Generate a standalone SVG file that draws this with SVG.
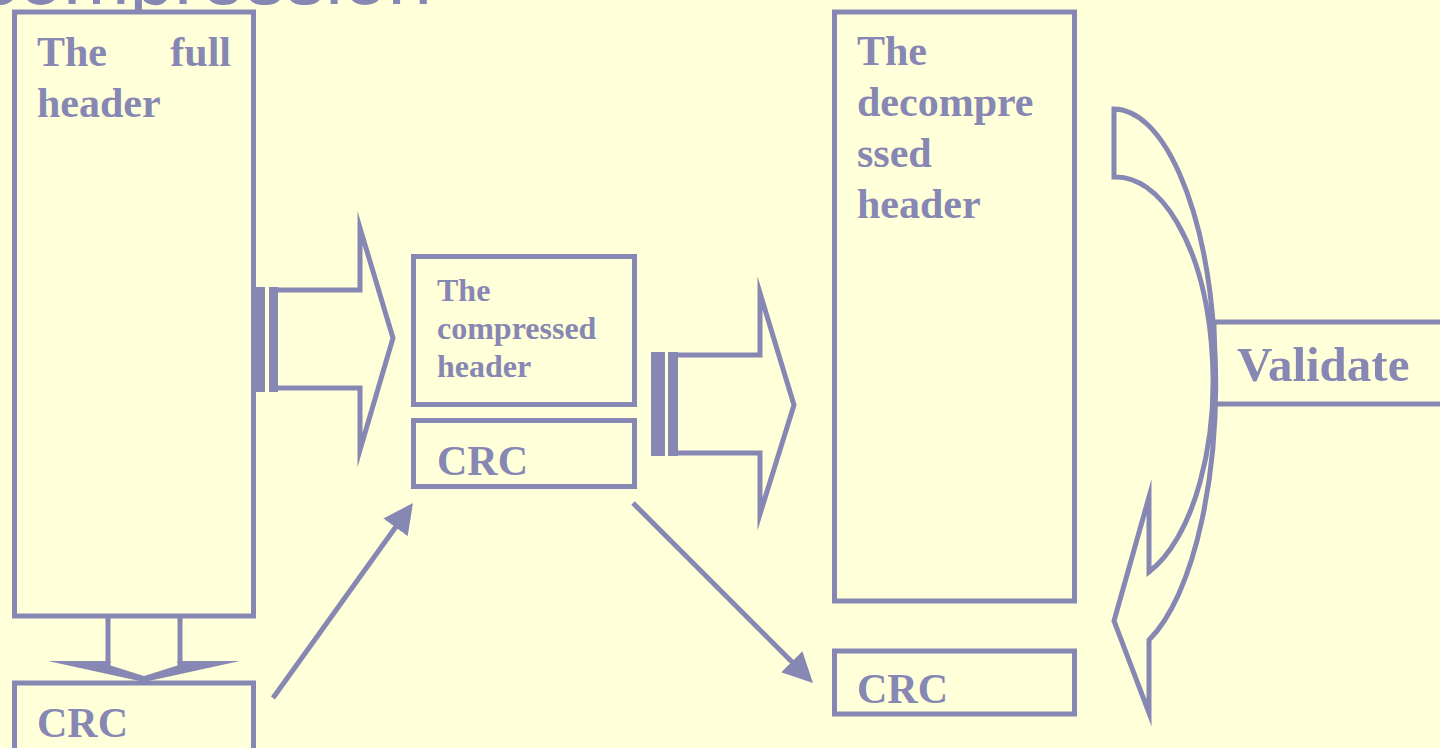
<svg xmlns="http://www.w3.org/2000/svg" width="1440" height="748" viewBox="0 0 1440 748">
<style>
.bx{fill:none;stroke:#8787B3;stroke-width:5}
.sh{fill:none;stroke:#8787B3;stroke-width:5;stroke-linejoin:miter;stroke-miterlimit:20}
.st{fill:#8787B3}
.t{font-family:"Liberation Serif","Times New Roman",serif;font-weight:bold;fill:#8787B3}
.ln{stroke:#8787B3;stroke-width:5;fill:none}
</style>
<defs>
<marker id="ah" viewBox="0 0 30 30" refX="5" refY="15" markerWidth="30" markerHeight="30" markerUnits="userSpaceOnUse" orient="auto">
<path d="M0,0 L30,15 L0,30 Z" fill="#8787B3"/>
</marker>
<clipPath id="tc"><rect x="0" y="0" width="1440" height="12"/></clipPath>
</defs>
<rect width="1440" height="748" fill="#FFFFDA"/>
<text x="432" y="4" text-anchor="end" clip-path="url(#tc)" font-family="Liberation Sans, Arial, sans-serif" font-size="80" fill="#8787B3">Decompression</text>

<g id="full-header">
<rect class="bx" x="14.5" y="12" width="239" height="604"/>
<text class="t" font-size="42"><tspan x="37" y="66">The</tspan><tspan x="231" y="66" text-anchor="end">full</tspan><tspan x="37" y="117">header</tspan></text>
</g>

<g id="crc-source">
<rect class="bx" x="14.5" y="683" width="239" height="72"/>
<text class="t" font-size="42" x="37" y="737">CRC</text>
</g>

<g id="compressed-header">
<rect class="bx" x="413.5" y="256.5" width="221" height="148"/>
<text class="t" font-size="32"><tspan x="437" y="301">The</tspan><tspan x="437" y="339">compressed</tspan><tspan x="437" y="377">header</tspan></text>
</g>

<g id="crc-compressed">
<rect class="bx" x="413.5" y="420.5" width="221" height="66"/>
<text class="t" font-size="42" x="437" y="475">CRC</text>
</g>

<g id="decompressed-header">
<rect class="bx" x="834.5" y="12" width="240" height="589"/>
<text class="t" font-size="42"><tspan x="857" y="65">The</tspan><tspan x="857" y="116">decompre</tspan><tspan x="857" y="167">ssed</tspan><tspan x="857" y="218">header</tspan></text>
</g>

<g id="crc-decompressed">
<rect class="bx" x="834.5" y="651" width="240" height="63"/>
<text class="t" font-size="42" x="857" y="703">CRC</text>
</g>

<g id="validate">
<rect class="bx" x="1214" y="322" width="240" height="82"/>
<text class="t" font-size="49" x="1237" y="381">Validate</text>
</g>

<g id="connectors">
<path class="ln" d="M108,617 L108,663 M180,617 L180,663"/>
<path class="st" d="M48,661 L110.5,661 L110.5,665.5 L144,676 L177.5,665.5 L177.5,661 L240,661 L144,682 Z"/>
<rect class="st" x="252" y="287" width="13" height="105"/>
<rect class="st" x="269" y="287" width="9" height="105"/>
<path class="sh" d="M278,290 L360,290 L360,228 L393,338 L360,450 L360,388 L278,388"/>
<rect class="st" x="651" y="352" width="14" height="104"/>
<rect class="st" x="668" y="352" width="10" height="104"/>
<path class="sh" d="M678,355 L760,355 L760,293 L794,405 L760,514 L760,453 L678,453"/>
<path class="sh" d="M1114,109 A102,274 0 0 1 1149,640 L1149,713 L1114,621 L1149,497 L1149,572 A97,203.6 0 0 0 1114,177 Z"/>
<line class="ln" x1="273" y1="698" x2="398.4" y2="523.3" marker-end="url(#ah)"/>
<line class="ln" x1="633" y1="503" x2="795.3" y2="665.3" marker-end="url(#ah)"/>
</g>
</svg>
